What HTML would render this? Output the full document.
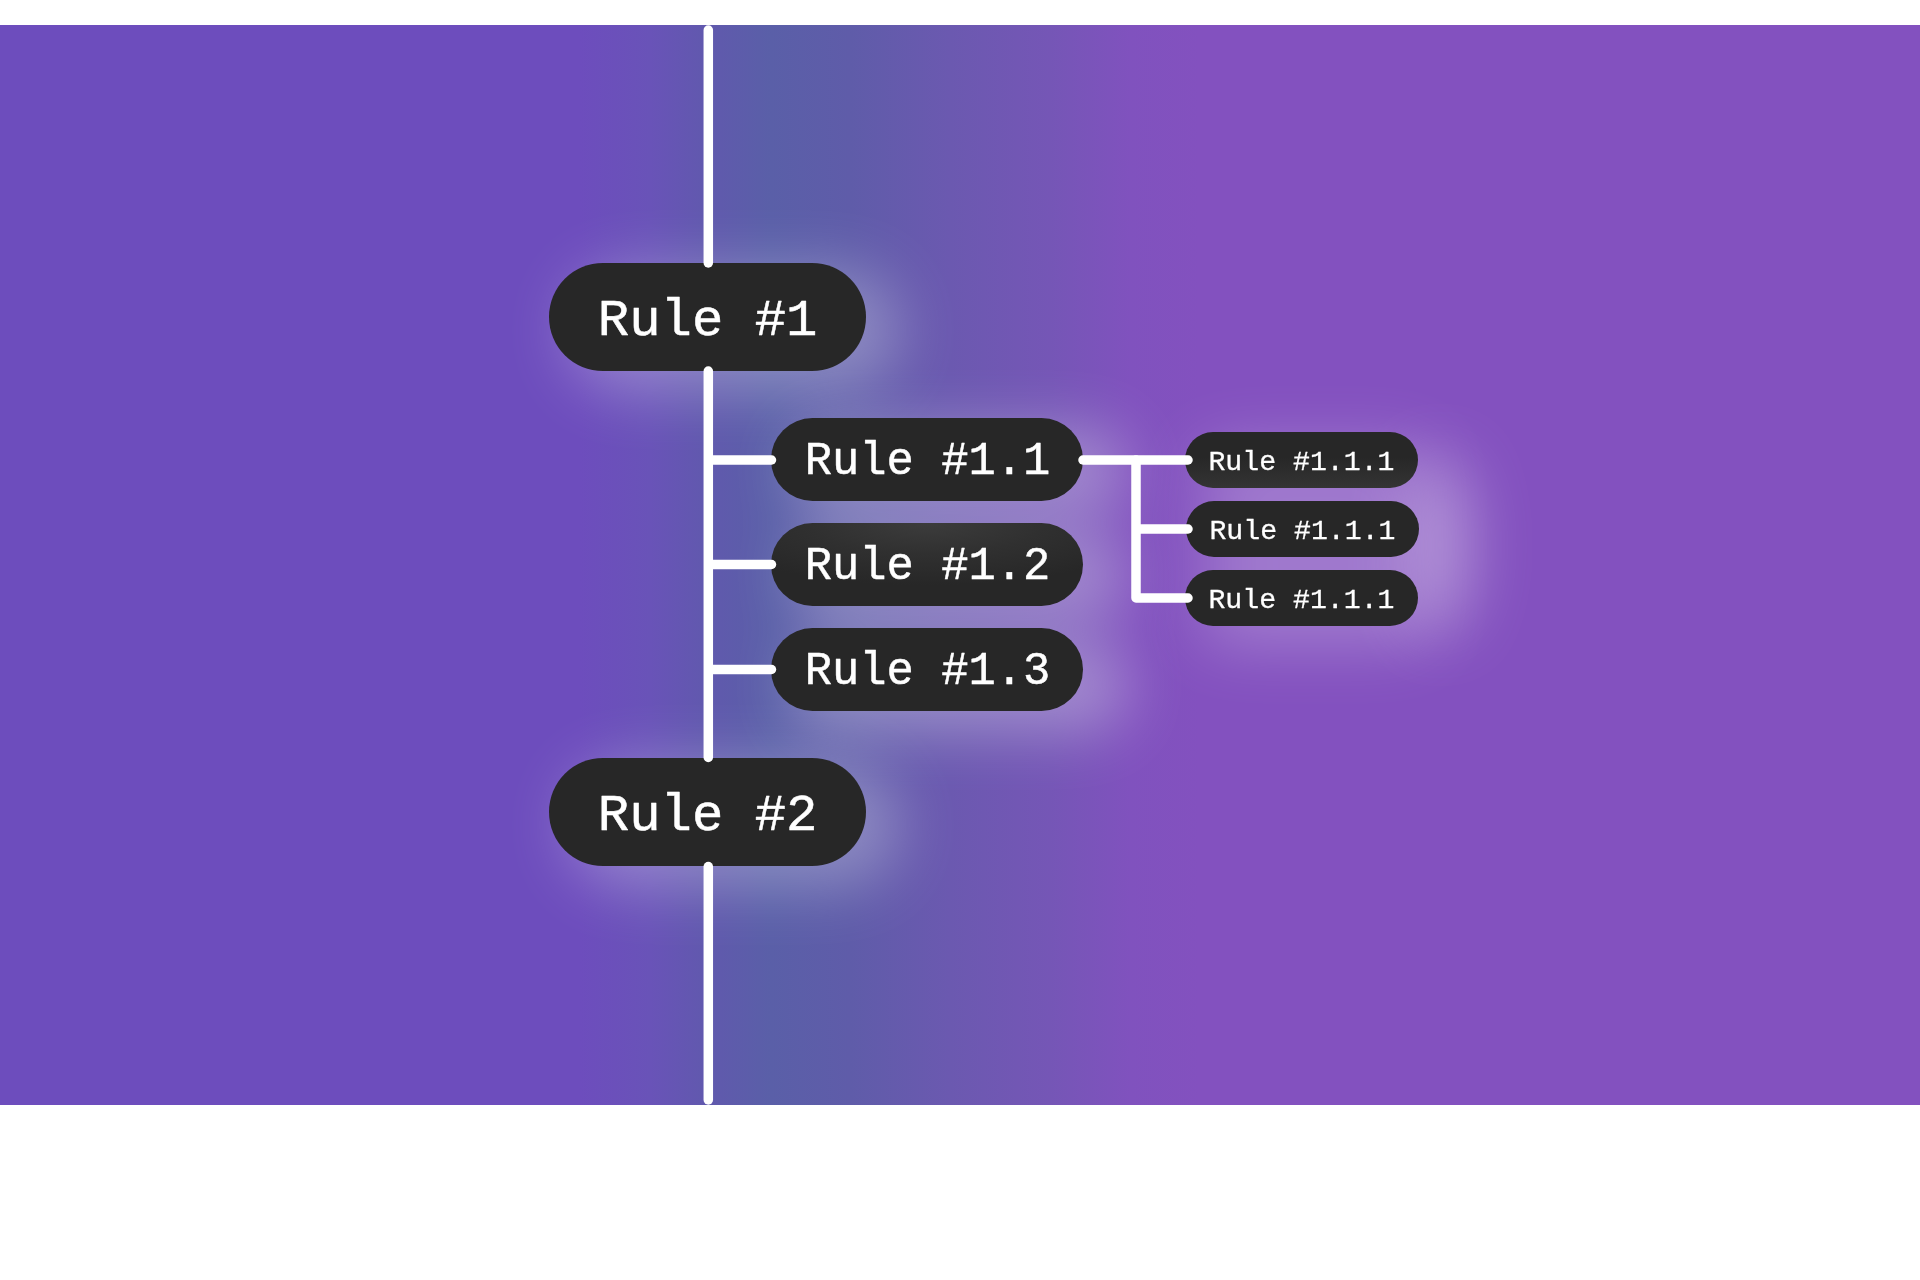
<!DOCTYPE html>
<html lang="en">
<head>
<meta charset="utf-8">
<title>Rules</title>
<style>
  html, body { margin: 0; padding: 0; background: #ffffff; }
  body { width: 1920px; height: 1280px; overflow: hidden; position: relative; }
  .hero {
    position: absolute; left: 0; top: 25px; width: 1920px; height: 1080px;
    overflow: hidden;
    background: linear-gradient(90deg,
      #6d4dbd 0px, #6d4dbd 580px,
      #6953b8 650px,
      #6059ad 710px,
      #5a5fa8 770px,
      #5f5ca9 850px,
      #6b59b0 950px,
      #7556b6 1050px,
      #8052be 1130px,
      #8351bf 1200px, #8351bf 1920px);
  }
  svg { position: absolute; left: 0; top: 0; display: block; }
  text {
    font-family: "Liberation Mono", "DejaVu Sans Mono", monospace;
    fill: #ffffff; stroke: #ffffff; stroke-linejoin: round;
    text-anchor: middle;
  }
  .t1 { font-size: 52.3px; stroke-width: 0.5px; }
  .t2 { font-size: 45.5px; stroke-width: 0.45px; }
  .t3 { font-size: 28.2px; stroke-width: 0.3px; }
</style>
</head>
<body>
<div class="hero">
<svg width="1920" height="1080" viewBox="0 25 1920 1080">
  <defs>
    <filter id="glow" filterUnits="userSpaceOnUse" x="0" y="0" width="1920" height="1130">
      <feGaussianBlur stdDeviation="30"/>
    </filter>
    <filter id="glow2" filterUnits="userSpaceOnUse" x="0" y="0" width="1920" height="1130">
      <feGaussianBlur stdDeviation="32"/>
    </filter>
    <radialGradient id="pillhi" cx="0.5" cy="0" r="0.75">
      <stop offset="0" stop-color="#3c3c3c"/>
      <stop offset="0.5" stop-color="#303030"/>
      <stop offset="1" stop-color="#272727"/>
    </radialGradient>
    <linearGradient id="pilllo" x1="0" y1="0" x2="0" y2="1">
      <stop offset="0.45" stop-color="#272727"/>
      <stop offset="1" stop-color="#343434"/>
    </linearGradient>
  </defs>

  <!-- glows -->
  <g fill="#ffffff">
    <g filter="url(#glow)" opacity="0.28">
      <rect x="566" y="268" width="334" height="124" rx="60"/>
      <rect x="566" y="763" width="334" height="124" rx="60"/>
    </g>
    <g filter="url(#glow)" opacity="0.31">
      <rect x="790" y="428" width="338" height="85" rx="42"/>
      <rect x="790" y="533" width="338" height="85" rx="42"/>
      <rect x="790" y="640" width="338" height="92" rx="42"/>
    </g>
    <g filter="url(#glow2)" opacity="0.28">
      <rect x="1199" y="448" width="233" height="56" rx="28"/>
      <rect x="1199" y="517" width="233" height="56" rx="28"/>
      <rect x="1199" y="586" width="233" height="56" rx="28"/>
    </g>
    <g filter="url(#glow2)" opacity="0.38">
      <ellipse cx="1440" cy="545" rx="30" ry="90"/>
    </g>
  </g>

  <!-- pills -->
  <g fill="#272727">
    <rect x="549" y="263" width="317" height="108" rx="54"/>
    <rect x="549" y="758" width="317" height="108" rx="54"/>
    <rect x="771" y="418" width="312" height="83" rx="41.5"/>
    <rect x="771" y="523" width="312" height="83" rx="41.5" fill="url(#pillhi)"/>
    <rect x="771" y="628" width="312" height="83" rx="41.5"/>
    <rect x="1185" y="432" width="233" height="56" rx="28" fill="url(#pilllo)"/>
    <rect x="1186" y="501" width="233" height="56" rx="28"/>
    <rect x="1185" y="570" width="233" height="56" rx="28"/>
  </g>

  <!-- connectors -->
  <g fill="none" stroke="#ffffff" stroke-width="9.5" stroke-linecap="round" stroke-linejoin="round">
    <path d="M708.3 30 V263"/>
    <path d="M708.3 371 V757.5"/>
    <path d="M708.3 866.5 V1100"/>
    <path d="M710 460 H771.5"/>
    <path d="M710 564.5 H771.5"/>
    <path d="M710 669.5 H771.5"/>
    <path d="M1083 460 H1188"/>
    <path d="M1188 529 H1138"/>
    <path d="M1136 460 V598 H1188"/>
  </g>

  <!-- labels -->
  <g opacity="0.999">
  <text class="t1" x="707.6" y="334.5">Rule #1</text>
  <text class="t1" x="707.6" y="829.5">Rule #2</text>
  <text class="t2" x="927.5" y="473.9">Rule #1.1</text>
  <text class="t2" x="927.5" y="578.9">Rule #1.2</text>
  <text class="t2" x="927.5" y="683.9">Rule #1.3</text>
  <text class="t3" x="1301.5" y="469.7">Rule #1.1.1</text>
  <text class="t3" x="1302.5" y="538.7">Rule #1.1.1</text>
  <text class="t3" x="1301.5" y="607.7">Rule #1.1.1</text>
  </g>
</svg>
</div>
</body>
</html>
